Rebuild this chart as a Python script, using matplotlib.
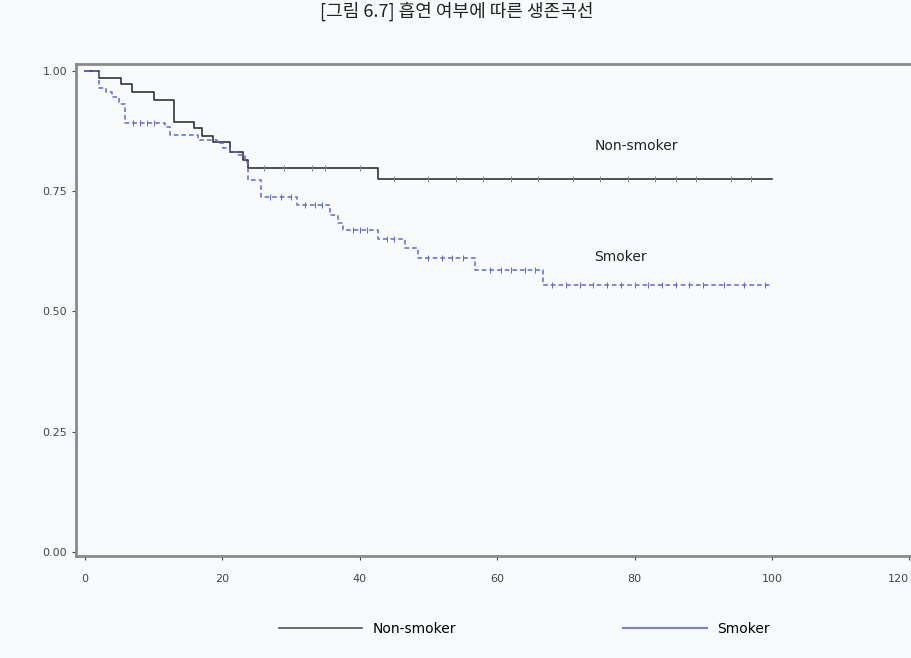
import matplotlib.pyplot as plt
from matplotlib.lines import Line2D

plt.rcParams['font.family'] = ['DejaVu Sans', 'Noto Sans CJK KR']

# ================================= Dados =================================

nonsmoker_t = [0, 2, 5.2, 6.9, 10, 12.9, 15.9, 17, 18.7, 21.1, 23, 23.7, 42.6, 100]
nonsmoker_s = [1.0, 0.984, 0.973, 0.956, 0.939, 0.894, 0.880, 0.864, 0.852, 0.831, 0.814, 0.797, 0.774, 0.774]

smoker_t = [0, 2, 3, 4, 5, 5.8, 11.6, 12.4, 16.4, 19.2, 20.1, 21.1, 22.1, 23.3, 23.8, 25.6,
            30.8, 35.7, 36.9, 37.6, 42.6, 46.6, 48.5, 56.8, 66.7, 100]
smoker_s = [1.0, 0.963, 0.955, 0.944, 0.93, 0.891, 0.883, 0.866, 0.856, 0.849, 0.839, 0.830, 0.824,
            0.810, 0.773, 0.738, 0.721, 0.70, 0.683, 0.669, 0.650, 0.631, 0.611, 0.586, 0.555, 0.555]

# censuras (marcas verticais)
nonsmoker_cens_t = [26, 29, 33, 35, 40, 45, 50, 54, 58, 62, 66, 71, 75, 79, 83, 86, 89, 94, 97]
smoker_cens_t = [7, 8, 9, 10, 27, 28.5, 30, 32, 33.5, 34.5, 39, 40, 41, 44, 45, 50, 52, 53.5, 55,
                 59, 60.5, 62, 64, 65.5, 68, 70, 72, 74, 76, 78, 80, 82, 84, 86, 88, 90, 93, 96, 99]

x_ticks = [0, 20, 40, 60, 80, 100, 120]
y_ticks = [0.0, 0.25, 0.50, 0.75, 1.00]
y_tick_labels = ['0.00', '0.25', '0.50', '0.75', '1.00']

titulo = '[그림 6.7] 흡연 여부에 따른 생존곡선'


def valor_em(tempos, ts, ss):
    out = []
    for t in tempos:
        v = ss[0]
        for ti, si in zip(ts, ss):
            if ti <= t:
                v = si
        out.append(v)
    return out


bg = '#f7fbfb'
cor_preto = '#333333'
cor_azul = '#6464dc'

fig = plt.figure(figsize=(9.12, 6.58), dpi=100, facecolor=bg)
ax = fig.add_axes([76 / 912, 102 / 658, 836 / 912, 492 / 658], facecolor=bg)

ax.plot(nonsmoker_t, nonsmoker_s, drawstyle='steps-post', color=cor_preto, lw=1.2)
ax.plot(smoker_t, smoker_s, drawstyle='steps-post', color=cor_azul, lw=1.1, linestyle=(0, (3, 2)))

ax.plot(nonsmoker_cens_t, valor_em(nonsmoker_cens_t, nonsmoker_t, nonsmoker_s), linestyle='none',
        marker='|', markersize=4, color='#888888', mew=0.7)
ax.plot(smoker_cens_t, valor_em(smoker_cens_t, smoker_t, smoker_s), linestyle='none',
        marker='|', markersize=4, color=cor_azul, mew=0.7)

ax.text(80.3, 0.843, 'Non-smoker', ha='center', va='center', fontsize=10, color='#222222')
ax.text(77.9, 0.613, 'Smoker', ha='center', va='center', fontsize=10, color='#222222')

ax.set_xlim(-1.31, 120.4)
ax.set_ylim(-0.0083, 1.0135)
ax.set_xticks(x_ticks)
ax.set_yticks(y_ticks)
ax.set_yticklabels(y_tick_labels)
ax.tick_params(labelsize=8, colors='#444444', length=3, width=0.8)
ax.tick_params(axis='x', pad=10)
ax.get_xticklabels()[-1].set_horizontalalignment('right')

for lado in ['left', 'bottom', 'top']:
    ax.spines[lado].set_color('#8a8a8a')
    ax.spines[lado].set_linewidth(2)
ax.spines['right'].set_visible(False)

handles = [Line2D([], [], color='#555555', lw=1.2),
           Line2D([], [], color='#7d7de0', lw=1.5)]
fig.legend(handles, ['Non-smoker', 'Smoker'], ncol=2, loc='center',
           bbox_to_anchor=(0.575, 1 - 629 / 658), frameon=False, fontsize=10,
           handlelength=6, handletextpad=0.8, columnspacing=12)

fig.text(457 / 912, 1 - 2 / 658, titulo, ha='center', va='top', fontsize=13,
         family=['Noto Sans CJK KR', 'DejaVu Sans'], color='#222222')

plt.savefig('out.png', dpi=100, facecolor=bg)
